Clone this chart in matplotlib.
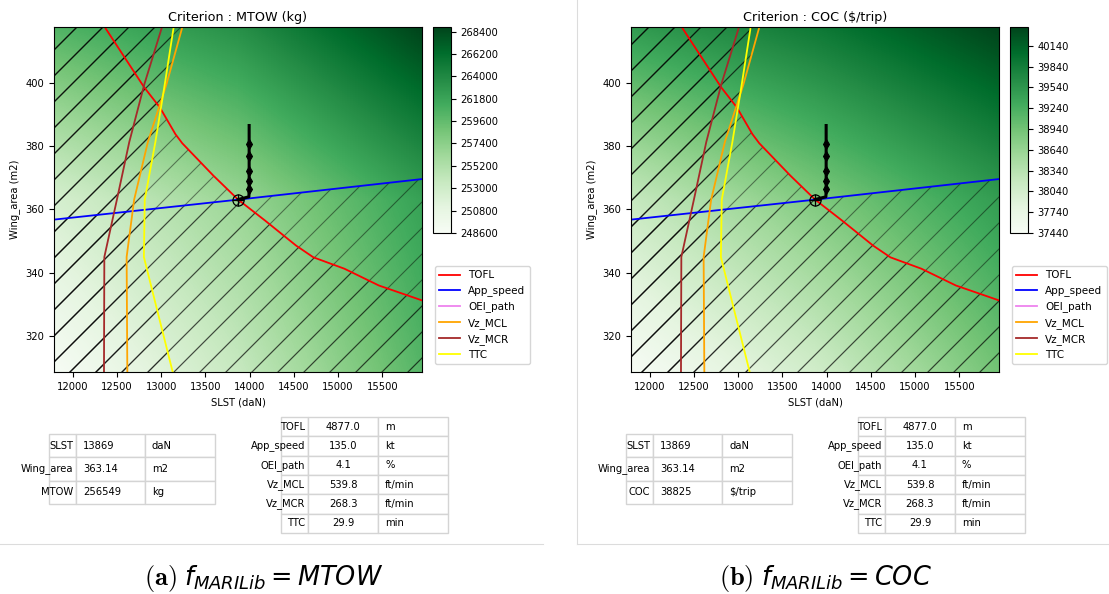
import numpy as np
import matplotlib.pyplot as plt
from matplotlib.table import Table
from matplotlib.lines import Line2D

# grille (SLST, surface) et valeurs du critere
slst_grid = [11789, 13869, 15949]
area_grid = [308.7, 363.14, 417.6]
mtow_grid = [[248600, 253600, 260200],
             [252400, 256549, 262000],
             [260400, 263400, 268850]]
coc_grid = [[37440, 38060, 38927],
            [38183, 38825, 39462],
            [39480, 39880, 40413]]
mtow_ticks = [248600, 250800, 253000, 255200, 257400, 259600, 261800, 264000, 266200, 268400]
coc_ticks = [37440, 37740, 38040, 38340, 38640, 38940, 39240, 39540, 39840, 40140]

# courbes de contraintes
tofl_x = [12362, 12810, 12986, 13161, 13239, 13590, 13871, 14175, 14526, 14721, 15072, 15462, 15949]
tofl_y = [417.6, 398.5, 392.2, 383.8, 380.9, 370.7, 363.1, 356.5, 348.6, 344.9, 341.3, 336.0, 331.3]
tofl_ext_x = [18000]
tofl_ext_y = [308.7]
app_x = [11789, 13869, 15949]
app_y = [356.8, 363.1, 369.6]
vz_y = [308.7, 326.8, 345.0, 363.1, 381.3, 399.5, 417.6]
vz_mcr_x = [12354, 12356, 12358, 12500, 12640, 12810, 13010]
vz_mcl_x = [12618, 12614, 12610, 12695, 12850, 13060, 13240]
ttc_x = [13131, 12968, 12805, 12815, 12935, 13041, 13142]

# chemin de l'optimiseur
path_x = [13995, 13995, 13995, 13995, 13995, 13995, 13992, 13869]
path_y = [386.5, 380.8, 376.8, 372.0, 369.0, 366.6, 364.0, 363.14]

in_labels = ['SLST', 'Wing_area']
in_values = ['13869', '363.14']
in_units = ['daN', 'm2']
out_labels = ['TOFL', 'App_speed', 'OEI_path', 'Vz_MCL', 'Vz_MCR', 'TTC']
out_values = ['4877.0', '135.0', '4.1', '539.8', '268.3', '29.9']
out_units = ['m', 'kt', '%', 'ft/min', 'ft/min', 'min']

W, H = 1109, 594
DPI = 78            # hachures plus serrees : on travaille a 78 dpi
PT = 100 / DPI      # tailles en points corrigees
FS = 7.2 * PT

rc = plt.rcParams
rc['font.size'] = FS
rc['hatch.linewidth'] = 1.0
for k in ['xtick.major.size', 'ytick.major.size', 'xtick.major.width', 'ytick.major.width',
          'xtick.major.pad', 'ytick.major.pad', 'axes.linewidth', 'axes.labelpad',
          'patch.linewidth', 'lines.linewidth']:
    rc[k] = rc[k] * PT


def box(x0, y0, x1, y1):
    return [x0 / W, 1 - y1 / H, (x1 - x0) / W, (y1 - y0) / H]


fig = plt.figure(figsize=(W / DPI, H / DPI), dpi=DPI)


def make_table(ax, rows, widths, value_loc):
    tab = Table(ax, bbox=[0, 0, 1, 1])
    tot = sum(widths)
    for r, row in enumerate(rows):
        for c, txt in enumerate(row):
            loc = 'right' if c == 0 else (value_loc if c == 1 else 'left')
            tab.add_cell(r, c, width=widths[c] / tot, height=1 / len(rows),
                         text=txt, loc=loc, edgecolor='#d4d4d4')
    tab.auto_set_font_size(False)
    tab.set_fontsize(FS)
    ax.add_table(tab)


def hatch_left(ax, xs, ys):
    ax.fill_betweenx(ys, slst_grid[0], xs, facecolor='none',
                     edgecolor=(0, 0, 0, 0.45), hatch='/', linewidth=0)


def panel(dx, field, vmin, vmax, cticks, crit, unit, crit_val, letter):
    ax = fig.add_axes(box(54 + dx, 27, 422 + dx, 372))
    hx = (slst_grid[1] - slst_grid[0]) / 2
    hy = (area_grid[1] - area_grid[0]) / 2
    img = ax.imshow(np.array(field), origin='lower', cmap='Greens', vmin=vmin, vmax=vmax,
                    extent=[slst_grid[0] - hx, slst_grid[-1] + hx,
                            area_grid[0] - hy, area_grid[-1] + hy],
                    interpolation='bilinear', interpolation_stage='data', aspect='auto')

    # zones non admissibles hachurees (une couche par contrainte)
    hatch_left(ax, tofl_x + tofl_ext_x, tofl_y + tofl_ext_y)
    hatch_left(ax, vz_mcl_x, vz_y)
    hatch_left(ax, vz_mcr_x, vz_y)
    hatch_left(ax, ttc_x, vz_y)
    ax.fill_between(app_x, area_grid[0], app_y, facecolor='none',
                    edgecolor=(0, 0, 0, 0.45), hatch='/', linewidth=0)

    lw = 1.3 * PT
    ax.plot(tofl_x, tofl_y, color='red', lw=lw, label='TOFL')
    ax.plot(app_x, app_y, color='blue', lw=lw, label='App_speed')
    ax.plot([], [], color='violet', lw=lw, label='OEI_path')
    ax.plot(vz_mcl_x, vz_y, color='orange', lw=lw, label='Vz_MCL')
    ax.plot(vz_mcr_x, vz_y, color='brown', lw=lw, label='Vz_MCR')
    ax.plot(ttc_x, vz_y, color='yellow', lw=lw, label='TTC')

    ax.plot(path_x, path_y, color='k', lw=2.2 * PT)
    ax.plot(path_x[1:-2], path_y[1:-2], ls='none', marker='d', ms=5 * PT, color='k')
    ax.plot(path_x[-1], path_y[-1], marker='o', ms=8 * PT, mfc='none', mec='k', mew=0.9 * PT)
    ax.plot(path_x[-1], path_y[-1], marker='+', ms=8 * PT, color='k', mew=0.9 * PT)

    ax.set_xlim(slst_grid[0], slst_grid[-1])
    ax.set_ylim(area_grid[0], area_grid[-1])
    ax.set_xticks([12000, 12500, 13000, 13500, 14000, 14500, 15000, 15500])
    ax.set_yticks([320, 340, 360, 380, 400])
    ax.set_xlabel('SLST (daN)')
    ax.set_ylabel('Wing_area (m2)')
    ax.set_title(f'Criterion : {crit} ({unit})', fontsize=9.2 * PT, pad=4 * PT)

    ax.legend(loc='upper left', bbox_to_anchor=((435 + dx) / W, 1 - 266 / H),
              bbox_transform=fig.transFigure, borderaxespad=0, fontsize=7.5 * PT)

    cax = fig.add_axes(box(433 + dx, 27, 451 + dx, 233))
    cb = fig.colorbar(img, cax=cax, ticks=cticks)
    cb.ax.tick_params(labelsize=FS)

    tax1 = fig.add_axes(box(49 + dx, 434, 215 + dx, 504))
    tax1.axis('off')
    rows1 = [[l, v, u] for l, v, u in zip(in_labels + [crit], in_values + [crit_val],
                                          in_units + [unit])]
    make_table(tax1, rows1, [27, 69, 70], 'left')

    tax2 = fig.add_axes(box(281 + dx, 417, 448 + dx, 533))
    tax2.axis('off')
    rows2 = [[l, v, u] for l, v, u in zip(out_labels, out_values, out_units)]
    make_table(tax2, rows2, [27, 70, 70], 'center')

    fig.text((177 + dx) / W, 1 - 585 / H, r'$\mathbf{(' + letter + r')}$', ha='right',
             va='baseline', fontsize=19 * PT, math_fontfamily='cm')
    fig.text((184 + dx) / W, 1 - 585 / H, r'$f_{MARILib} = ' + crit + '$', ha='left',
             va='baseline', fontsize=18.5 * PT, math_fontfamily='dejavusans')


panel(0, mtow_grid, 248600, 268850, mtow_ticks, 'MTOW', 'kg', '256549', 'a')
panel(577, coc_grid, 37440, 40413, coc_ticks, 'COC', '$/trip', '38825', 'b')

# cadres des sous-figures
gc = '#dcdcdc'
fig.add_artist(Line2D([0, 543 / W], [1 - 544 / H] * 2, color=gc, lw=0.8 * PT))
fig.add_artist(Line2D([577 / W] * 2, [1, 1 - 544 / H], color=gc, lw=0.8 * PT))
fig.add_artist(Line2D([577 / W, 1], [1 - 544 / H] * 2, color=gc, lw=0.8 * PT))

fig.savefig('out.png', dpi=DPI)
